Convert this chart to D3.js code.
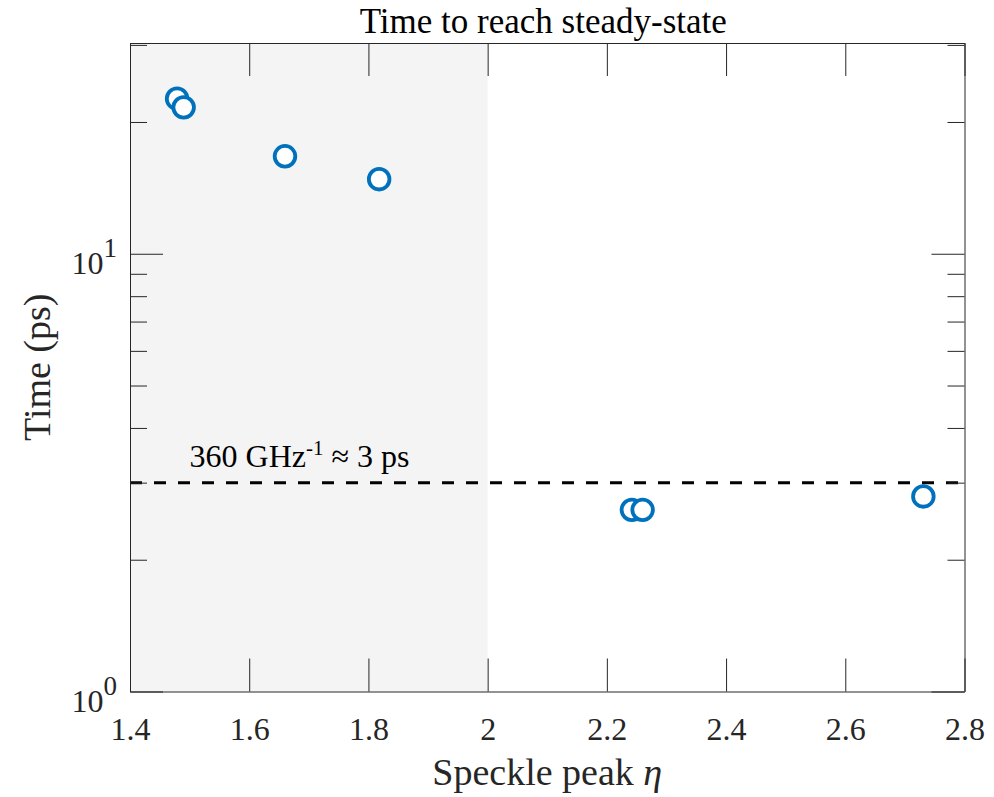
<!DOCTYPE html>
<html>
<head>
<meta charset="utf-8">
<script src="https://cdn.jsdelivr.net/npm/d3@7"></script>
<style>
  body { margin: 0; background: #fff; }
  svg text { font-family: "Liberation Serif", "Times New Roman", Times, serif; }
</style>
</head>
<body>
<div id="chart"></div>
<script>
// data
const speckle = [1.479, 1.490, 1.660, 1.818, 2.242, 2.260, 2.731]
const time = [22.6, 21.6, 16.7, 14.8, 2.60, 2.60, 2.79]
const xTicks = [1.4, 1.6, 1.8, 2, 2.2, 2.4, 2.6, 2.8]
const yMajor = [1, 10]
const yMinor = [2, 3, 4, 5, 6, 7, 8, 9, 20, 30]
const shadeRange = [1.4, 2.0]
const refTime = 3

const margin = { top: 43, right: 29.5, bottom: 105.5, left: 130 }
const width = 994 - margin.left - margin.right,
    height = 797 - margin.top - margin.bottom;

const axisColor = "#262626"
const serif = '"Liberation Serif", "Times New Roman", Times, serif'

const svg = d3.select("#chart")
    .append("svg")
    .attr("width", 994)
    .attr("height", 797)
    .append("g")
    .attr("transform", "translate(" + margin.left + "," + margin.top + ")")

const x = d3.scaleLinear().domain([1.4, 2.8]).range([0, width])
const y = d3.scaleLog().domain([1, 30.3]).range([height, 0])

// grey band on the left
svg.append("rect")
    .attr("x", x(shadeRange[0]))
    .attr("y", 0)
    .attr("width", x(shadeRange[1]) - x(shadeRange[0]))
    .attr("height", height)
    .attr("fill", "#f4f4f4")

// reference line at 3 ps
svg.append("line")
    .attr("x1", 0)
    .attr("x2", width - 4)
    .attr("y1", y(refTime))
    .attr("y2", y(refTime))
    .attr("stroke", "#000")
    .attr("stroke-width", 3)
    .attr("stroke-dasharray", "12,12")

const note = svg.append("text")
    .attr("x", x(1.5))
    .attr("y", y(refTime) - 16)
    .style("font-family", serif)
    .attr("font-size", 32)
    .attr("fill", "#000")
note.append("tspan").text("360 GHz")
note.append("tspan").attr("font-size", 21).attr("dy", -12).text("-1")
note.append("tspan").attr("dy", 12).text(" \u2248 3 ps")

// points
const points = speckle.map((s, i) => ({ s: s, t: time[i] }))
svg.selectAll("circle")
    .data(points)
    .enter()
    .append("circle")
    .attr("cx", d => x(d.s))
    .attr("cy", d => y(d.t))
    .attr("r", 10.3)
    .attr("fill", "#fff")
    .attr("stroke", "#0072bd")
    .attr("stroke-width", 3.8)

// axes
function styleAxis(g) {
    g.style("font-family", serif)
    g.selectAll(".domain").attr("stroke", axisColor)
    g.selectAll(".tick line").attr("stroke", axisColor)
    g.selectAll(".tick text")
        .attr("fill", axisColor)
        .style("font-family", serif)
        .attr("font-size", 32)
}

svg.append("g")
    .attr("transform", "translate(0," + height + ")")
    .call(d3.axisBottom(x).tickValues(xTicks).tickSizeInner(-33).tickSizeOuter(0)
        .tickPadding(26).tickFormat(d3.format("")))
    .call(styleAxis)

svg.append("g")
    .call(d3.axisTop(x).tickValues(xTicks).tickSizeInner(-33).tickSizeOuter(0).tickFormat(""))
    .call(styleAxis)

const yLeft = svg.append("g")
    .call(d3.axisLeft(y).tickValues(yMajor).tickSizeInner(-33).tickSizeOuter(0).tickFormat(""))
    .call(styleAxis)

svg.append("g")
    .call(d3.axisLeft(y).tickValues(yMinor).tickSizeInner(-17).tickSizeOuter(0).tickFormat(""))
    .call(styleAxis)
    .select(".domain").remove()

svg.append("g")
    .attr("transform", "translate(" + width + ",0)")
    .call(d3.axisRight(y).tickValues(yMajor).tickSizeInner(-33).tickSizeOuter(0).tickFormat(""))
    .call(styleAxis)

svg.append("g")
    .attr("transform", "translate(" + width + ",0)")
    .call(d3.axisRight(y).tickValues(yMinor).tickSizeInner(-17).tickSizeOuter(0).tickFormat(""))
    .call(styleAxis)
    .select(".domain").remove()

// 10^n labels
yLeft.selectAll(".tick text")
    .attr("x", -13)
    .attr("y", 20)
    .attr("dy", null)
    .attr("text-anchor", "end")
    .each(function (d) {
        const t = d3.select(this)
        t.append("tspan").text("10")
        t.append("tspan").attr("font-size", 27).attr("dy", -17).text(Math.round(Math.log10(d)))
    })

// title and axis labels
svg.append("text")
    .attr("x", width / 2 - 4)
    .attr("y", -10)
    .attr("text-anchor", "middle")
    .style("font-family", serif)
    .attr("font-size", 35)
    .attr("fill", "#000")
    .text("Time to reach steady-state")

const xl = svg.append("text")
    .attr("x", width / 2)
    .attr("y", height + 93)
    .attr("text-anchor", "middle")
    .style("font-family", serif)
    .attr("font-size", 38)
    .attr("fill", axisColor)
xl.append("tspan").text("Speckle peak ")
xl.append("tspan").attr("font-style", "italic").text("\u03b7")

svg.append("text")
    .attr("transform", "translate(-80," + height / 2 + ") rotate(-90)")
    .attr("text-anchor", "middle")
    .style("font-family", serif)
    .attr("font-size", 38)
    .attr("fill", axisColor)
    .text("Time (ps)")
</script>
</body>
</html>
